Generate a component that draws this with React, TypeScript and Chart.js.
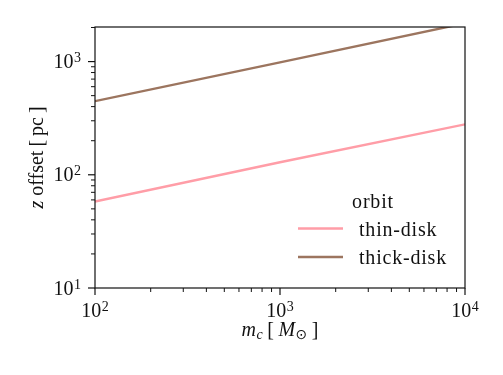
import { useEffect, useRef } from "react";
import { Chart, registerables } from "chart.js";

Chart.register(...registerables);

// Cluster mass (solar masses) and vertical offset (pc) for each orbit family
const massValues = [100, 1000, 10000];
const thinDiskOffsets = [58, 129, 279];
const thickDiskOffsets = [447, 985, 2180];

const seriesNames = ["thin-disk", "thick-disk"];
const seriesColors = ["#ff9da7", "#9c755f"];
const legendTitle = "orbit";

// Axis ranges and decade exponents used for labelled ticks
const xRange = [100, 10000];
const yRange = [10, 2020];
const xDecades = [2, 3, 4];
const yDecades = [1, 2, 3];

const FONT = '"Liberation Serif", "DejaVu Serif", serif';
const INK = "#111111";
const SPACING = "0.8px";

function minorValues(min: number, max: number): number[] {
  const out: number[] = [];
  for (let e = Math.floor(Math.log10(min)); e <= Math.ceil(Math.log10(max)); e++) {
    for (let m = 2; m <= 9; m++) {
      const v = m * Math.pow(10, e);
      if (v >= min && v <= max) out.push(v);
    }
  }
  return out;
}

// "10" followed by a raised exponent
function drawPower(
  ctx: CanvasRenderingContext2D,
  exp: number,
  x: number,
  baseline: number,
  align: "center" | "right"
) {
  ctx.font = `20px ${FONT}`;
  const w1 = ctx.measureText("10").width;
  ctx.font = `14px ${FONT}`;
  const w2 = ctx.measureText(String(exp)).width;
  const total = w1 + w2 + 0.5;
  const start = align === "center" ? x - total / 2 : x - total;
  ctx.textAlign = "left";
  ctx.textBaseline = "alphabetic";
  ctx.font = `20px ${FONT}`;
  ctx.fillText("10", start, baseline);
  ctx.font = `14px ${FONT}`;
  ctx.fillText(String(exp), start + w1 + 0.5, baseline - 6);
}

type Piece = { t: string; font: string; dy?: number; gap?: number };

function piecesWidth(ctx: CanvasRenderingContext2D, pieces: Piece[]) {
  let w = 0;
  for (const p of pieces) {
    ctx.font = p.font;
    w += ctx.measureText(p.t).width + (p.gap || 0);
  }
  return w;
}

function drawPieces(ctx: CanvasRenderingContext2D, pieces: Piece[], x: number, baseline: number) {
  let cx = x;
  ctx.textAlign = "left";
  ctx.textBaseline = "alphabetic";
  for (const p of pieces) {
    ctx.font = p.font;
    ctx.fillText(p.t, cx, baseline + (p.dy || 0));
    cx += ctx.measureText(p.t).width + (p.gap || 0);
  }
}

const axesPlugin = {
  id: "mplAxes",
  afterDraw(chart: any) {
    const ctx: CanvasRenderingContext2D = chart.ctx;
    const area = chart.chartArea;
    const xs = chart.scales.x;
    const ys = chart.scales.y;
    ctx.save();
    ctx.strokeStyle = INK;
    ctx.fillStyle = INK;

    // frame
    ctx.lineWidth = 1.2;
    ctx.strokeRect(area.left, area.top, area.right - area.left, area.bottom - area.top);

    // x ticks
    ctx.lineWidth = 1.2;
    for (const e of xDecades) {
      const px = xs.getPixelForValue(Math.pow(10, e));
      ctx.beginPath();
      ctx.moveTo(px, area.bottom);
      ctx.lineTo(px, area.bottom + 7);
      ctx.stroke();
      drawPower(ctx, e, px, 317, "center");
    }
    ctx.lineWidth = 1;
    for (const v of minorValues(xRange[0], xRange[1])) {
      const px = xs.getPixelForValue(v);
      ctx.beginPath();
      ctx.moveTo(px, area.bottom);
      ctx.lineTo(px, area.bottom + 4);
      ctx.stroke();
    }

    // y ticks
    ctx.lineWidth = 1.2;
    for (const e of yDecades) {
      const py = ys.getPixelForValue(Math.pow(10, e));
      ctx.beginPath();
      ctx.moveTo(area.left, py);
      ctx.lineTo(area.left - 7, py);
      ctx.stroke();
      drawPower(ctx, e, area.left - 14, py + 6.5, "right");
    }
    ctx.lineWidth = 1;
    for (const v of minorValues(yRange[0], yRange[1])) {
      const py = ys.getPixelForValue(v);
      ctx.beginPath();
      ctx.moveTo(area.left, py);
      ctx.lineTo(area.left - 4, py);
      ctx.stroke();
    }

    // x title: m_c [ M_sun ]
    const it20 = `italic 20px ${FONT}`;
    const it14 = `italic 14px ${FONT}`;
    const up20 = `20px ${FONT}`;
    const xTitle: Piece[] = [
      { t: "m", font: it20, gap: 0.5 },
      { t: "c", font: it14, dy: 3.5, gap: 4.5 },
      { t: "[", font: up20, gap: 4.5 },
      { t: "M", font: it20, gap: 0.5 },
      { t: "⊙", font: `14px "DejaVu Sans", sans-serif`, dy: 3.5, gap: 4.5 },
      { t: "]", font: up20 },
    ];
    const xMid = (area.left + area.right) / 2;
    drawPieces(ctx, xTitle, xMid - piecesWidth(ctx, xTitle) / 2, 335.5);

    // y title: z offset [ pc ]
    const yTitle: Piece[] = [
      { t: "z", font: it20, gap: 5 },
      { t: "offset", font: up20, gap: 4 },
      { t: "[", font: up20, gap: 4 },
      { t: "pc", font: up20, gap: 4 },
      { t: "]", font: up20 },
    ];
    ctx.save();
    ctx.translate(43, (area.top + area.bottom) / 2);
    ctx.rotate(-Math.PI / 2);
    drawPieces(ctx, yTitle, -piecesWidth(ctx, yTitle) / 2, 0);
    ctx.restore();

    // legend
    (ctx as any).letterSpacing = SPACING;
    ctx.font = up20;
    ctx.textAlign = "center";
    ctx.fillText(legendTitle, 373, 208);
    const rows = [228.5, 257];
    chart.data.datasets.forEach((ds: any, i: number) => {
      ctx.strokeStyle = ds.borderColor;
      ctx.lineWidth = ds.borderWidth;
      ctx.beginPath();
      ctx.moveTo(298, rows[i]);
      ctx.lineTo(343, rows[i]);
      ctx.stroke();
      ctx.fillStyle = INK;
      ctx.font = up20;
      ctx.textAlign = "left";
      ctx.fillText(ds.label, 359, rows[i] + 7);
    });
    (ctx as any).letterSpacing = "0px";

    ctx.restore();
  },
};

export default function App() {
  const canvasRef = useRef<HTMLCanvasElement | null>(null);

  useEffect(() => {
    const canvas = canvasRef.current;
    if (!canvas) return;
    const seriesValues = [thinDiskOffsets, thickDiskOffsets];
    const chart = new Chart(canvas, {
      type: "line",
      data: {
        datasets: seriesValues.map((vals, i) => ({
          label: seriesNames[i],
          data: massValues.map((m, j) => ({ x: m, y: vals[j] })),
          borderColor: seriesColors[i],
          backgroundColor: seriesColors[i],
          borderWidth: 2.4,
          pointRadius: 0,
          tension: 0,
          clip: 0,
        })),
      },
      options: {
        animation: false,
        responsive: false,
        devicePixelRatio: 1,
        layout: { padding: { left: 95, right: 38, top: 27, bottom: 87 } },
        scales: {
          x: { type: "logarithmic", min: xRange[0], max: xRange[1], display: false },
          y: { type: "logarithmic", min: yRange[0], max: yRange[1], display: false },
        },
        plugins: {
          legend: { display: false },
          tooltip: { enabled: false },
        },
      },
      plugins: [axesPlugin],
    } as any);
    return () => chart.destroy();
  }, []);

  return (
    <div style={{ position: "fixed", left: 0, top: 0, width: 503, height: 375, background: "#fff" }}>
      <canvas ref={canvasRef} width={503} height={375} style={{ width: 503, height: 375 }} />
    </div>
  );
}
